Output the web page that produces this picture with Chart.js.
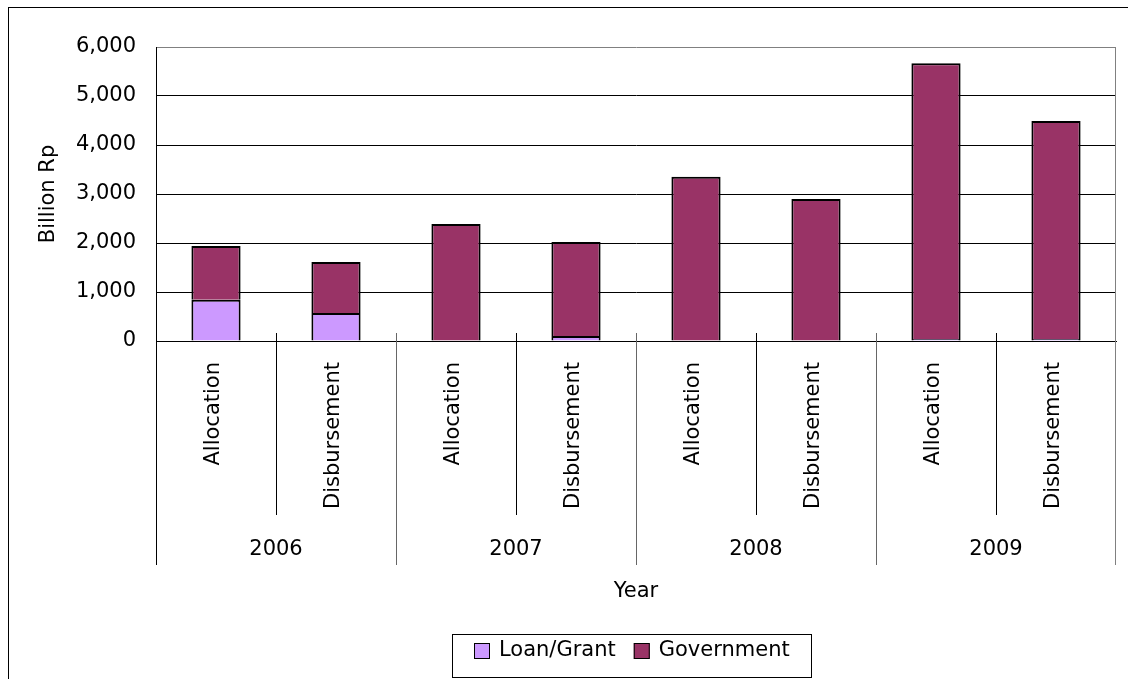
<!DOCTYPE html>
<html>
<head>
<meta charset="utf-8">
<title>Loan/Grant vs Government</title>
<script src="https://cdn.jsdelivr.net/npm/chart.js@4.4.0/dist/chart.umd.min.js"></script>
<style>
  html, body { margin: 0; padding: 0; background: #fff; }
</style>
</head>
<body>
<canvas id="chart" width="1128" height="679"></canvas>
<script>
// Data
const years = ["2006", "2007", "2008", "2009"];
const categories = ["Allocation", "Disbursement", "Allocation", "Disbursement",
                    "Allocation", "Disbursement", "Allocation", "Disbursement"];
const loanGrant  = [840, 570, 0, 100, 0, 0, 40, 40];
const government = [1100, 1040, 2390, 1920, 3350, 2900, 5630, 4450];
const yTickLabels = ["0", "1,000", "2,000", "3,000", "4,000", "5,000", "6,000"];

const FONT_FAMILY = '"DejaVu Sans", sans-serif';
const FONT_SIZE = 21;
const FONT = FONT_SIZE + 'px ' + FONT_FAMILY;

// draws the two-level category axis, titles, legend and frame
const decor = {
    id: 'decor',
    afterDraw(chart) {
        const ctx = chart.ctx;
        const a = chart.chartArea;
        const x = chart.scales.x;
        const catW = x.width / categories.length;
        const axisY = Math.round(a.bottom);

        ctx.save();
        ctx.lineWidth = 1;

        // right border of plot area
        ctx.strokeStyle = '#808080';
        ctx.beginPath();
        ctx.moveTo(Math.round(a.right) - 0.5, a.top);
        ctx.lineTo(Math.round(a.right) - 0.5, 565);
        ctx.stroke();

        // category separators
        for (let i = 0; i < categories.length; i++) {
            const bx = Math.round(x.left + i * catW) + 0.5;
            ctx.beginPath();
            if (i === 0) {
                ctx.strokeStyle = '#000';
                ctx.moveTo(bx, axisY);
                ctx.lineTo(bx, 565);
            } else if (i % 2 === 1) {
                ctx.strokeStyle = '#000';
                ctx.moveTo(bx, axisY - 8);
                ctx.lineTo(bx, 515);
            } else {
                ctx.strokeStyle = '#666';
                ctx.moveTo(bx, axisY - 8);
                ctx.lineTo(bx, 565);
            }
            ctx.stroke();
        }

        ctx.fillStyle = '#000';
        ctx.font = FONT;

        // rotated category labels
        categories.forEach((label, i) => {
            const cx = x.getPixelForValue(i);
            ctx.save();
            ctx.translate(cx - 2, 362);
            ctx.rotate(-Math.PI / 2);
            ctx.textAlign = 'right';
            ctx.textBaseline = 'middle';
            ctx.fillText(label, 0, 0);
            ctx.restore();
        });

        // year labels
        ctx.textAlign = 'center';
        ctx.textBaseline = 'middle';
        years.forEach((yr, j) => {
            const cx = x.left + (j * 2 + 1) * catW;
            ctx.fillText(yr, cx, 550);
        });

        // axis titles
        ctx.fillText('Year', (a.left + a.right) / 2, 592);
        ctx.save();
        ctx.translate(49, (a.top + a.bottom) / 2);
        ctx.rotate(-Math.PI / 2);
        ctx.fillText('Billion Rp', 0, 0);
        ctx.restore();

        // legend (framed box 452..811, items centred)
        const items = chart.data.datasets.map(d => ({ label: d.label, color: d.backgroundColor }));
        const box = 16, gap = 9, between = 18;
        const frameL = 452, frameR = 811;
        let total = 0;
        items.forEach((it, k) => {
            it.w = ctx.measureText(it.label).width;
            total += box + gap + it.w + (k < items.length - 1 ? between : 0);
        });
        let lx = Math.round((frameL + frameR) / 2 - total / 2);
        const ly = 651;
        ctx.strokeStyle = '#000';
        ctx.strokeRect(frameL + 0.5, 634.5, frameR - frameL, 43);
        ctx.textAlign = 'left';
        items.forEach(it => {
            ctx.fillStyle = it.color;
            ctx.fillRect(lx, ly - 8, box, box);
            ctx.strokeRect(lx + 0.5, ly - 7.5, box - 1, box - 1);
            ctx.fillStyle = '#000';
            ctx.fillText(it.label, lx + box + gap, ly);
            lx += box + gap + it.w + between;
        });

        // outer frame
        ctx.strokeStyle = '#000';
        ctx.strokeRect(8.5, 7.5, 1200, 800);
        ctx.restore();
    }
};

const ctx = document.getElementById("chart").getContext("2d");

new Chart(ctx, {
    type: 'bar',
    data: {
        labels: categories,
        datasets: [{
            label: 'Loan/Grant',
            data: loanGrant,
            backgroundColor: '#CC99FF',
            borderColor: '#000',
            borderWidth: 2
        },
        {
            label: 'Government',
            data: government,
            backgroundColor: '#993366',
            borderColor: '#000',
            borderWidth: 2
        }]
    },
    options: {
        responsive: false,
        animation: false,
        devicePixelRatio: 1,
        layout: { padding: { top: 47, right: 12, left: 0, bottom: 0 } },
        datasets: { bar: { barPercentage: 0.41, categoryPercentage: 1.0 } },
        plugins: {
            legend: { display: false },
            tooltip: { enabled: false }
        },
        scales: {
            x: {
                stacked: true,
                afterFit: s => { s.height = 338; },
                ticks: { display: false },
                grid: { display: false },
                border: { color: '#000', width: 1 }
            },
            y: {
                stacked: true,
                min: 0,
                max: 6000,
                afterFit: s => { s.width = 156; },
                ticks: {
                    stepSize: 1000,
                    color: '#000',
                    padding: 20,
                    font: { family: FONT_FAMILY, size: FONT_SIZE },
                    callback: (v, i) => yTickLabels[i]
                },
                grid: {
                    drawTicks: false,
                    color: c => (c.tick && c.tick.value === 6000) ? '#808080' : '#000'
                },
                border: { color: '#000', width: 1 }
            }
        }
    },
    plugins: [decor]
});
</script>
</body>
</html>
